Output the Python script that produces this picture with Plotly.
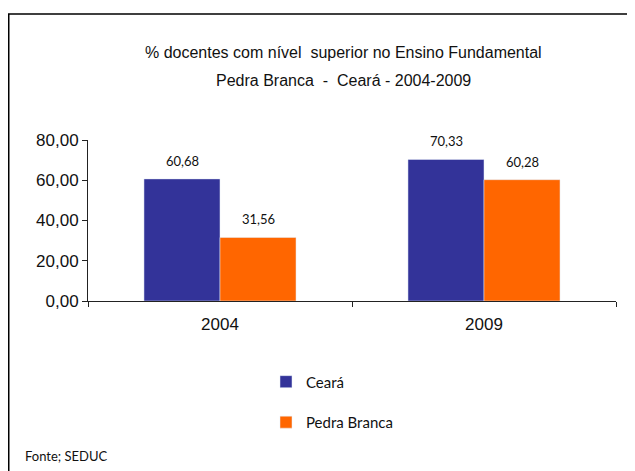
import plotly.graph_objects as go

years = ["2004", "2009"]
ceara = [60.68, 70.33]
pedra_branca = [31.56, 60.28]
y_ticks = [0, 20, 40, 60, 80]
title_lines = ["% docentes com nível  superior no Ensino Fundamental",
               "Pedra Branca  -  Ceará - 2004-2009"]
source = "Fonte; SEDUC"

C_BLUE = "#333399"
C_ORANGE = "#FF6600"

# plot area in figure pixels
L, R, T, B = 80, 608, 132, 293
W, H = 635, 471
PW, PH = R - L, B - T


def px(x):
    return (x - L) / PW


def py(y):
    return (B - y) / PH


fig = go.Figure()
fig.add_trace(go.Bar(name="Ceará", x=years, y=ceara, marker_color=C_BLUE,
                     legendgroup="a"))
fig.add_trace(go.Bar(name="Pedra Branca", x=years, y=pedra_branca,
                     marker_color=C_ORANGE, legendgroup="b"))

fmt = lambda v: f"{v:.2f}".replace(".", ",")
for vals, shift in [(ceara, -38), (pedra_branca, 38)]:
    for i, v in enumerate(vals):
        fig.add_annotation(x=i, y=v, xref="x", yref="y", text=fmt(v),
                           showarrow=False, xshift=shift, yshift=18,
                           font=dict(family="Lato", size=13, color="#111"))

for line, ypix in zip(title_lines, [44, 72]):
    fig.add_annotation(x=px(335), y=py(ypix), xref="paper", yref="paper",
                       text=line, showarrow=False, xanchor="center",
                       yanchor="middle",
                       font=dict(family="Liberation Sans", size=16, color="#111"))

fig.add_annotation(x=px(15), y=py(448), xref="paper", yref="paper",
                   text=source, showarrow=False, xanchor="left",
                   yanchor="middle",
                   font=dict(family="Lato", size=13, color="#111"))

fig.update_layout(
    width=W, height=H,
    margin=dict(l=L, r=W - R, t=T, b=H - B),
    paper_bgcolor="white", plot_bgcolor="white",
    barmode="group", bargap=0.424, bargroupgap=0,
    showlegend=True,
    legend=dict(x=px(258), y=-0.40, xanchor="left", yanchor="top",
                traceorder="grouped", tracegroupgap=18, itemwidth=30,
                font=dict(family="Lato", size=15, color="#111"),
                bgcolor="rgba(0,0,0,0)"),
    font=dict(family="Liberation Sans", color="#111"),
    separators=",.",
)
fig.update_xaxes(type="category", range=[-0.5, 1.5], showline=True,
                 linecolor="#222", linewidth=1, ticks="outside",
                 tickson="boundaries", ticklen=5, tickcolor="#222",
                 ticklabelstandoff=8,
                 tickfont=dict(family="Liberation Sans", size=17, color="#111"),
                 showgrid=False)
fig.update_yaxes(range=[0, 80], tickvals=y_ticks, tickformat=".2f",
                 showline=True, linecolor="#222", linewidth=1,
                 ticks="outside", ticklen=5, tickcolor="#222",
                 tickfont=dict(family="Liberation Sans", size=17, color="#111"),
                 showgrid=False, zeroline=False)

fig.add_shape(type="rect", xref="paper", yref="paper",
              x0=px(0.75), x1=1.2, y0=-1.3, y1=py(6),
              line=dict(color="black", width=1.5), fillcolor="rgba(0,0,0,0)")

fig.write_html("out.html")
